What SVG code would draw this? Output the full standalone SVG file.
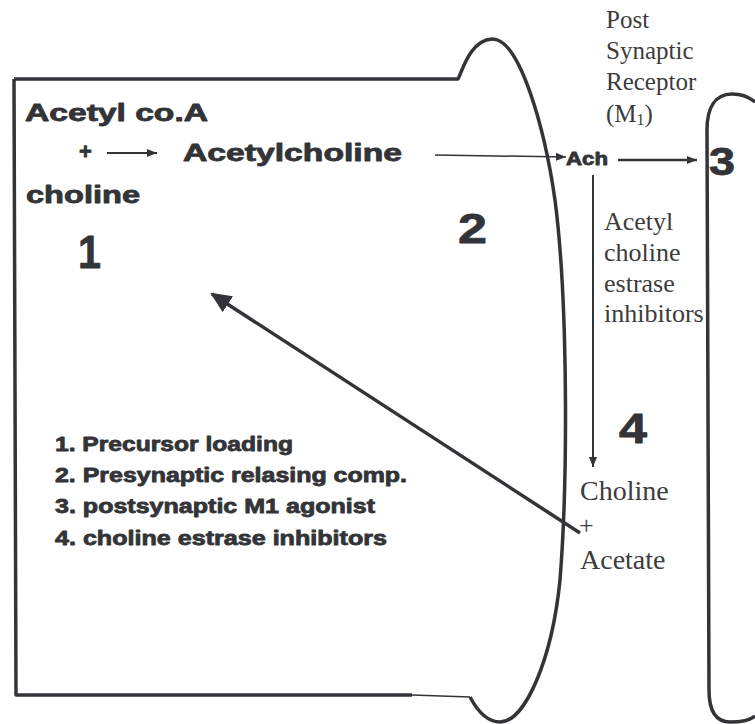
<svg xmlns="http://www.w3.org/2000/svg" width="755" height="724" viewBox="0 0 755 724">
<style>
.line{fill:none;stroke:#333438;stroke-width:3.5;stroke-linejoin:round}
.conn{fill:none;stroke:#333438}
.b{font-family:"Liberation Sans",Arial,sans-serif;font-weight:bold;fill:#333438;stroke:#333438;stroke-width:0.8;stroke-linejoin:round}
.s{font-family:"Liberation Serif","Times New Roman",serif;fill:#3c3c3c}
</style>
<defs>
<marker id="ah" viewBox="0 0 10 10" refX="10" refY="5" markerWidth="10" markerHeight="10" markerUnits="userSpaceOnUse" orient="auto">
<path d="M0,1 L10,5 L0,9 Z" fill="#333438"/>
</marker>
<marker id="ahb" viewBox="0 0 10 10" refX="9" refY="5" markerWidth="6" markerHeight="6" orient="auto">
<path d="M0,0.5 L10,5 L0,9.5 Z" fill="#333438"/>
</marker>
</defs>
<rect width="755" height="724" fill="#ffffff"/>
<g id="presynaptic">
<path class="line" d="M14,79 L458,79 C462,72 470,40 492,39 C520,38 545,130 555,200 C568,300 568,480 560,580 C552,660 525,722 500,722 C488,722 478,712 470,697 M412,695 L16,695 L14,79"/>
<path d="M412,695 L470,697" stroke="#333438" stroke-width="1.5" fill="none"/>
<text class="b" x="25" y="121" font-size="23" textLength="183" lengthAdjust="spacingAndGlyphs">Acetyl co.A</text>
<text class="b" x="79" y="159" font-size="22">+</text>
<text class="b" x="183" y="161" font-size="23" textLength="219" lengthAdjust="spacingAndGlyphs">Acetylcholine</text>
<text class="b" x="26" y="203" font-size="23" textLength="114" lengthAdjust="spacingAndGlyphs">choline</text>
<text class="b" x="78" y="268" font-size="46" textLength="23" lengthAdjust="spacingAndGlyphs">1</text>
<text class="b" x="458" y="243" font-size="42" textLength="29" lengthAdjust="spacingAndGlyphs">2</text>
</g>
<g id="legend">
<text class="b" x="55" y="451" font-size="20" textLength="238" lengthAdjust="spacingAndGlyphs">1. Precursor loading</text>
<text class="b" x="55" y="482" font-size="20" textLength="352" lengthAdjust="spacingAndGlyphs">2. Presynaptic relasing comp.</text>
<text class="b" x="55" y="513" font-size="20" textLength="320" lengthAdjust="spacingAndGlyphs">3. postsynaptic M1 agonist</text>
<text class="b" x="55" y="545" font-size="20" textLength="332" lengthAdjust="spacingAndGlyphs">4. choline estrase inhibitors</text>
</g>
<g id="postsynaptic">
<path class="line" d="M755,102 C748,96 740,94 732,94 C715,94 707,108 707,130 L709,690 C709,712 716,722 730,722 C740,722 750,720 755,716"/>
<text class="b" x="709" y="175" font-size="38" textLength="26" lengthAdjust="spacingAndGlyphs">3</text>
</g>
<g id="receptor-label">
<text class="s" font-size="25"><tspan x="606" y="28">Post</tspan><tspan x="606" y="59">Synaptic</tspan><tspan x="606" y="90">Receptor</tspan><tspan x="606" y="122">(M</tspan><tspan font-size="16" dy="3">1</tspan><tspan font-size="25" dy="-3">)</tspan></text>
</g>
<g id="ach">
<text class="b" x="566" y="165" font-size="18" textLength="42" lengthAdjust="spacingAndGlyphs">Ach</text>
</g>
<g id="inhibitor-label">
<text class="s" font-size="26"><tspan x="604" y="230">Acetyl</tspan><tspan x="604" y="261">choline</tspan><tspan x="604" y="292">estrase</tspan><tspan x="604" y="322">inhibitors</tspan></text>
<text class="b" x="619" y="443" font-size="42" textLength="28" lengthAdjust="spacingAndGlyphs">4</text>
</g>
<g id="products">
<text class="s" font-size="28" x="580" y="500">Choline</text>
<text class="s" font-size="26" x="579" y="534">+</text>
<text class="s" font-size="28" x="580" y="569">Acetate</text>
</g>
<g id="connectors">
<path class="conn" stroke-width="2" d="M107,153 L157,153" marker-end="url(#ah)"/>
<path class="conn" stroke-width="1.5" d="M435,155 L566,157" marker-end="url(#ah)"/>
<path class="conn" stroke-width="2.5" d="M618,160 L697,160" marker-end="url(#ah)"/>
<path class="conn" stroke-width="2" d="M593,175 L593,467" marker-end="url(#ah)"/>
<path class="conn" stroke-width="3.5" d="M580,533 L212,294" marker-end="url(#ahb)"/>
</g>
</svg>
